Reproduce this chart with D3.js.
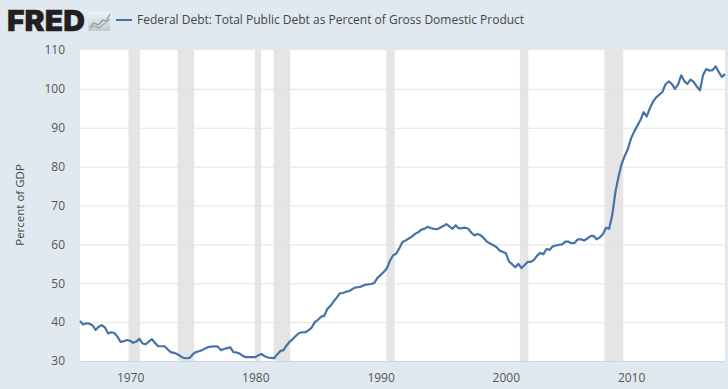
<!DOCTYPE html>
<html><head><meta charset="utf-8">
<script src="https://cdnjs.cloudflare.com/ajax/libs/d3/7.8.5/d3.min.js"></script>
<style>
html,body{margin:0;padding:0;background:#e1e9f0;overflow:hidden}
text{font-family:"Open Sans",sans-serif}
</style></head><body><svg id="c" width="728" height="389"></svg>
<script>
const startYear = 1966;
const debtPercent = [
40.3,39.4,39.7,39.6, 39.2,38.0,38.8,39.2, 38.6,37.1,37.4,37.2, 36.2,34.9,35.1,35.4,
35.2,34.7,35.0,35.7, 34.5,34.3,35.0,35.6, 34.6,33.8,33.8,33.8, 33.0,32.3,32.1,31.8,
31.3,30.8,30.7,30.8, 31.7,32.3,32.5,32.8, 33.2,33.6,33.7,33.8, 33.7,32.8,33.1,33.3,
33.5,32.3,32.2,31.9, 31.3,31.0,31.0,31.0, 31.0,31.5,31.8,31.2, 30.9,30.8,30.7,31.7,
32.6,32.8,34.0,35.0, 35.7,36.5,37.2,37.4, 37.4,37.9,38.6,40.0, 40.6,41.4,41.6,43.4,
44.2,45.3,46.3,47.4, 47.5,47.8,48.0,48.5, 48.9,49.0,49.2,49.6, 49.7,49.8,50.1,51.4,
52.1,52.9,53.8,55.8, 57.2,57.6,59.0,60.6, 61.0,61.5,62.0,62.7, 63.1,63.8,64.0,64.5,
64.2,64.0,63.9,64.3, 64.7,65.2,64.6,64.0, 64.9,64.1,64.2,64.3, 64.0,63.0,62.3,62.7,
62.3,61.6,60.7,60.2, 59.8,59.3,58.4,58.1, 57.7,55.6,54.9,54.1, 55.0,53.9,54.7,55.5,
55.5,56.0,57.1,57.8, 57.5,58.8,58.6,59.5, 59.7,59.9,60.0,60.7, 60.7,60.3,60.4,61.3,
61.3,61.0,61.5,62.1, 62.2,61.3,61.8,62.6, 64.3,64.0,67.6,73.5, 77.5,80.7,82.8,84.6,
87.3,89.0,90.5,92.0, 94.0,92.9,95.0,96.7, 97.8,98.5,99.2,101.2, 101.9,101.3,100.0,101.1,
103.5,102.0,101.3,102.4, 101.8,100.6,99.6,103.6, 105.1,104.7,104.8,105.8, 104.3,103.1,103.8];
const recessionStarts = ["1969-12-01","1973-11-01","1980-01-01","1981-07-01","1990-07-01","2001-03-01","2007-12-01"];
const recessionEnds   = ["1970-11-01","1975-03-01","1980-07-01","1982-11-01","1991-03-01","2001-11-01","2009-06-01"];
const yTicks = [30,40,50,60,70,80,90,100,110];
const xTickYears = [1970,1980,1990,2000,2010];
const seriesTitle = "Federal Debt: Total Public Debt as Percent of Gross Domestic Product";
const yAxisTitle = "Percent of GDP";
const logoText = "FRED";

const svg = d3.select("#c");
const dates = debtPercent.map((_, i) => new Date(startYear + Math.floor(i / 4), (i % 4) * 3, 1));
const x = d3.scaleTime().domain([dates[0], dates[dates.length - 1]]).range([80, 725]);
const y = d3.scaleLinear().domain([30, 110]).range([361, 50]);
const lx = 80, rx = 725;

svg.append("rect").attr("width",728).attr("height",389).attr("fill","#e1e9f0");
svg.append("rect").attr("x",lx).attr("y",y(110)).attr("width",rx-lx).attr("height",y(30)-y(110)).attr("fill","#fff");

svg.append("g").selectAll("rect").data(recessionStarts.map((s,i)=>[new Date(s),new Date(recessionEnds[i])])).join("rect")
  .attr("x",d=>x(d[0])-0.5).attr("width",d=>x(d[1])-x(d[0]))
  .attr("y",y(110)).attr("height",y(30)-y(110)).attr("fill","#e5e5e5");

const yAxis = svg.append("g").attr("transform",`translate(${lx},0)`)
  .call(d3.axisLeft(y).tickValues(yTicks).tickSize(-(rx-lx)).tickPadding(15).tickFormat(d3.format("d")));
yAxis.select(".domain").remove();
yAxis.selectAll("line").attr("stroke","#e3e3e3").attr("stroke-width",1).attr("opacity",d=>d===110?0:0.95);
yAxis.selectAll("text").attr("fill","#555").style("font-size","12px");

const xAxis = svg.append("g").attr("transform",`translate(0,${y(30)})`)
  .call(d3.axisBottom(x).tickValues(xTickYears.map(v=>new Date(v,0,1))).tickSize(0).tickPadding(12).tickFormat(d3.timeFormat("%Y")));
xAxis.select(".domain").attr("stroke","#ccd6eb");
xAxis.selectAll("text").attr("fill","#555").style("font-size","12px");

svg.append("path").datum(debtPercent)
  .attr("fill","none").attr("stroke","#4572a7").attr("stroke-width",2.2).attr("stroke-linejoin","round")
  .attr("d",d3.line().x((d,i)=>x(dates[i])).y(d=>y(d)));

svg.append("text").attr("transform","translate(24,205) rotate(-90)").attr("text-anchor","middle")
  .attr("fill","#444").style("font-size","11.5px").text(yAxisTitle);

svg.append("text").attr("x",7).attr("y",31).attr("textLength",78).attr("lengthAdjust","spacingAndGlyphs")
  .attr("fill","#231f20").attr("stroke","#231f20").attr("stroke-width",0.4)
  .style("font-family","Inter, 'Liberation Sans', sans-serif").style("font-weight",900).style("font-size","29px").text(logoText);

const icon = svg.append("g");
const grad = svg.append("defs").append("linearGradient").attr("id","ig").attr("x1",0).attr("y1",0).attr("x2",0).attr("y2",1);
grad.append("stop").attr("offset",0).attr("stop-color","#eef2f5");
grad.append("stop").attr("offset",1).attr("stop-color","#c5ccd0");
icon.append("rect").attr("x",88).attr("y",12).attr("width",22).attr("height",19).attr("fill","url(#ig)");
const iconLine = d3.line();
const iconA = [[90,27],[94,23],[98,25],[103,20],[106,21],[110,14]];
const iconB = [[90,29],[95,26],[99,28],[104,24],[110,19]];
icon.append("path").attr("d",iconLine(iconA)).attr("fill","none").attr("stroke","#7d9cb8").attr("stroke-width",1.2);
icon.append("path").attr("d",iconLine(iconB)).attr("fill","none").attr("stroke","#9dbb72").attr("stroke-width",1.4);

svg.append("line").attr("x1",116).attr("x2",132).attr("y1",20).attr("y2",20).attr("stroke","#4572a7").attr("stroke-width",2);
svg.append("text").attr("x",137).attr("y",24).attr("fill","#444").style("font-size","12px").text(seriesTitle);
</script></body></html>
